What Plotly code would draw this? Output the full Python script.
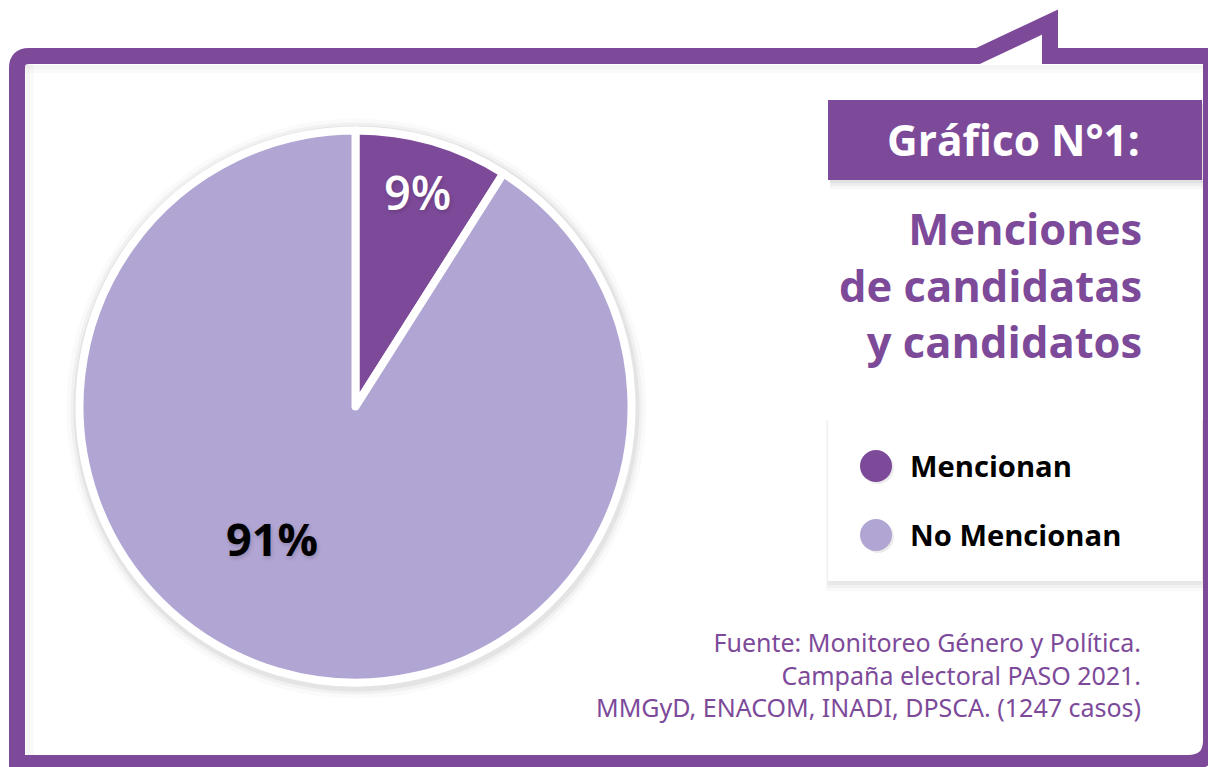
import math
import plotly.graph_objects as go

# ---------------- data ----------------
categories = ["Mencionan", "No Mencionan"]
values = [9, 91]
slice_colors = ["#7D4A9A", "#B1A5D3"]
label_colors = ["white", "black"]
title_text = "Gráfico N°1:"
subtitle_lines = ["Menciones", "de candidatas", "y candidatos"]
source_lines = [
    "Fuente: Monitoreo Género y Política.",
    "Campaña electoral PASO 2021.",
    "MMGyD, ENACOM, INADI, DPSCA. (1247 casos)",
]

# ---------------- layout helpers ----------------
W, H = 1208, 767
PURPLE = "#7D4A9A"
FONT = "Open Sans"


def px(x):
    return x / W


def py(y):
    return 1 - y / H


CX, CY, R = 355.5, 406.5, 276  # pie centre / radius in pixels

fig = go.Figure(
    go.Pie(
        labels=categories,
        values=values,
        sort=False,
        direction="clockwise",
        rotation=0,
        marker=dict(colors=slice_colors, line=dict(color="white", width=8)),
        textinfo="none",
        hoverinfo="skip",
        showlegend=False,
        domain=dict(x=[px(CX - R), px(CX + R)], y=[py(CY + R), py(CY - R)]),
    )
)

shapes = []

# bubble frame
frame_pts = (
    f"M {px(17)},{py(790)} L {px(17)},{py(68)} Q {px(17)},{py(56)} {px(29)},{py(56)} "
    f"L {px(978)},{py(56)} L {px(1050)},{py(22)} L {px(1050)},{py(56)} "
    f"L {px(1211)},{py(56)} L {px(1211)},{py(740)} Q {px(1211)},{py(763)} {px(1188)},{py(763)} "
    f"L {px(17)},{py(763)} Z"
)
shapes.append(dict(type="path", xref="paper", yref="paper", path=frame_pts,
                   fillcolor="white", line=dict(color=PURPLE, width=16), layer="below"))
# inner soft shadow of the frame
for off, alpha in [(3, 0.04), (7, 0.02)]:
    shapes.append(dict(type="line", xref="paper", yref="paper", x0=px(25 + off), x1=px(25 + off),
                       y0=py(64), y1=py(755), line=dict(color=f"rgba(0,0,0,{alpha})", width=4),
                       layer="below"))
    shapes.append(dict(type="line", xref="paper", yref="paper", x0=px(25), x1=px(1203),
                       y0=py(64 + off), y1=py(64 + off),
                       line=dict(color=f"rgba(0,0,0,{alpha})", width=4), layer="below"))

# pie glow/shadow
for extra, alpha in [(14, 0.02), (10, 0.035), (7, 0.05)]:
    shapes.append(dict(type="circle", xref="paper", yref="paper",
                       x0=px(CX - R - extra + 1), x1=px(CX + R + extra + 1),
                       y0=py(CY + R + extra + 2), y1=py(CY - R - extra + 2),
                       fillcolor=f"rgba(0,0,0,{alpha})", line=dict(width=0), layer="below"))

# title box with shadow
for off, alpha in [(9, 0.03), (6, 0.04), (3, 0.05)]:
    shapes.append(dict(type="rect", xref="paper", yref="paper",
                       x0=px(830), x1=px(1203), y0=py(180 + off), y1=py(104),
                       fillcolor=f"rgba(0,0,0,{alpha})", line=dict(width=0), layer="below"))
shapes.append(dict(type="rect", xref="paper", yref="paper", x0=px(828), x1=px(1202),
                   y0=py(180), y1=py(100), fillcolor=PURPLE, line=dict(width=0), layer="below"))

# legend box with shadow
for off, alpha in [(10, 0.02), (7, 0.03), (4, 0.04)]:
    shapes.append(dict(type="rect", xref="paper", yref="paper",
                       x0=px(829 - off / 3), x1=px(1203), y0=py(581 + off), y1=py(420),
                       fillcolor=f"rgba(0,0,0,{alpha})", line=dict(width=0), layer="below"))
shapes.append(dict(type="rect", xref="paper", yref="paper", x0=px(828), x1=px(1202),
                   y0=py(581), y1=py(418), fillcolor="white", line=dict(width=0), layer="below"))

annotations = []

# legend entries
leg_y0, leg_dy = 466, 69
for i, (name, col) in enumerate(zip(categories, slice_colors)):
    ly = leg_y0 + i * leg_dy
    shapes.append(dict(type="circle", xref="paper", yref="paper",
                       x0=px(862), x1=px(894), y0=py(ly + 18), y1=py(ly - 14),
                       fillcolor="rgba(0,0,0,0.08)", line=dict(width=0)))
    shapes.append(dict(type="circle", xref="paper", yref="paper",
                       x0=px(860), x1=px(892), y0=py(ly + 16), y1=py(ly - 16),
                       fillcolor=col, line=dict(width=0)))
    annotations.append(dict(xref="paper", yref="paper", x=px(908), y=py(ly), text=name,
                            showarrow=False, xanchor="left", yanchor="middle",
                            font=dict(family=FONT, size=29.2, color="black", weight="bold")))

# title
annotations.append(dict(xref="paper", yref="paper", x=px(1142), y=py(139), text=title_text,
                        showarrow=False, xanchor="right", yanchor="middle",
                        font=dict(family=FONT, size=42.4, color="white", weight="bold")))
annotations.append(dict(xref="paper", yref="paper", x=px(1144), y=py(285),
                        text="<br>".join(subtitle_lines), align="right",
                        showarrow=False, xanchor="right", yanchor="middle",
                        font=dict(family=FONT, size=43.5, color=PURPLE, weight="bold")))

# source
annotations.append(dict(xref="paper", yref="paper", x=px(1143), y=py(674),
                        text="<br>".join(source_lines), align="right",
                        showarrow=False, xanchor="right", yanchor="middle",
                        font=dict(family="Noto Sans", size=25, color=PURPLE)))

# pie value labels, placed from slice angles
label_placement = [(0.0, 0.82), (16.0, 0.575)]  # (angle offset deg, radius fraction)
total = sum(values)
start = 0.0
for v, col, (aoff, rf) in zip(values, label_colors, label_placement):
    mid = start + v / total * 180.0 + aoff
    start += v / total * 360.0
    rr = rf * (R - 4)
    lx = CX + rr * math.sin(math.radians(mid))
    ly = CY - rr * math.cos(math.radians(mid))
    annotations.append(dict(xref="paper", yref="paper", x=px(lx), y=py(ly),
                            text=f"{round(v / total * 100)}%", showarrow=False,
                            xanchor="center", yanchor="middle",
                            font=dict(family=FONT, size=47 if col == "white" else 45, color=col,
                                      weight=600 if col == "white" else "bold",
                                      shadow="1px 2px 4px rgba(0,0,0,0.18)")))

fig.update_layout(
    width=W, height=H,
    margin=dict(l=0, r=0, t=0, b=0),
    paper_bgcolor="white",
    plot_bgcolor="white",
    shapes=shapes,
    annotations=annotations,
)

fig.write_html("out.html", config={"displayModeBar": False},
               post_script="document.body.style.margin='0';document.body.style.overflow='hidden';")
